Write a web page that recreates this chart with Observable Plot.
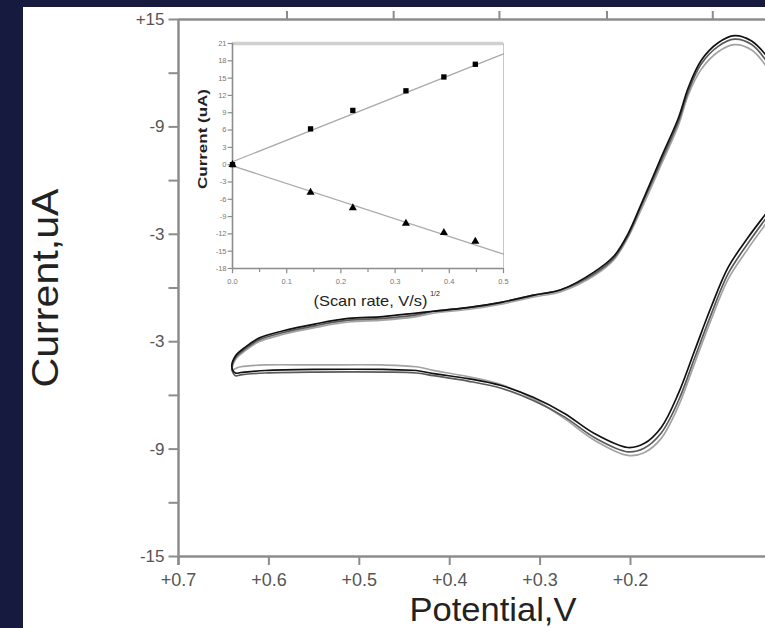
<!DOCTYPE html>
<html><head><meta charset="utf-8">
<script src="https://cdn.jsdelivr.net/npm/d3@7"></script>
<script src="https://cdn.jsdelivr.net/npm/@observablehq/plot@0.6"></script>
<style>
html,body{margin:0;padding:0;background:#151a3e;}
#wrap{position:relative;width:765px;height:628px;overflow:hidden;background:#151a3e;}
#panel{position:absolute;left:23px;top:7px;width:742px;height:621px;background:#fff;}
#main{position:absolute;left:0;top:0;}
#inset{position:absolute;left:185px;top:30px;}
</style></head><body>
<div id="wrap"><div id="panel"></div><div id="main"></div><div id="inset"></div></div>
<script>
// ---- Main cyclic voltammogram (three overlaid scans) ----
const potential = [0.050, 0.066, 0.085, 0.103, 0.122, 0.136, 0.147, 0.166, 0.188, 0.203, 0.218, 0.240, 0.277, 0.307, 0.343, 0.380, 0.418, 0.437, 0.474, 0.512, 0.548, 0.585, 0.611, 0.626, 0.637,
  0.641,
  0.637, 0.631, 0.604, 0.548, 0.474, 0.437, 0.418, 0.380, 0.343, 0.307, 0.273, 0.240, 0.203, 0.185, 0.166, 0.147, 0.129, 0.111, 0.092, 0.070, 0.050];
const scan1 = [13.0, 13.8, 14.1, 13.7, 12.7, 11.2, 9.5, 7.3, 4.7, 3.0, 1.8, 0.9, -0.1, -0.4, -0.8, -1.1, -1.3, -1.4, -1.6, -1.7, -2.0, -2.4, -2.8, -3.3, -3.8,
  -4.4,
  -4.75, -4.72, -4.61, -4.55, -4.55, -4.61, -4.78, -5.06, -5.45, -6.12, -7.01, -8.13, -8.91, -8.69, -7.79, -5.89, -3.49, -1.09, 1.15, 2.82, 4.16];
const scan2 = [12.7, 13.6, 13.9, 13.5, 12.5, 11.0, 9.3, 7.1, 4.6, 2.9, 1.7, 0.8, -0.1, -0.4, -0.8, -1.1, -1.3, -1.5, -1.7, -1.8, -2.1, -2.5, -2.9, -3.4, -3.9,
  -4.5,
  -4.9, -4.85, -4.75, -4.7, -4.7, -4.75, -4.9, -5.2, -5.6, -6.3, -7.2, -8.35, -9.15, -8.95, -8.1, -6.3, -3.9, -1.5, 0.8, 2.5, 3.9];
const scan3 = [12.4, 13.3, 13.6, 13.2, 12.2, 10.8, 9.1, 6.9, 4.4, 2.8, 1.6, 0.7, -0.2, -0.5, -0.9, -1.2, -1.4, -1.6, -1.8, -1.9, -2.2, -2.6, -3.0, -3.5, -4.0,
  -4.6,
  -4.5, -4.4, -4.3, -4.3, -4.3, -4.4, -4.6, -4.95, -5.4, -6.2, -7.3, -8.5, -9.35, -9.2, -8.4, -6.6, -4.2, -1.8, 0.5, 2.2, 3.6];
const scanColors = ["#111111", "#5a5a5a", "#a3a3a3"];

const xTicks = [0.7, 0.6, 0.5, 0.4, 0.3, 0.2];
const xTickLabels = ["+0.7", "+0.6", "+0.5", "+0.4", "+0.3", "+0.2"];
const topTicks = [0.580, 0.462, 0.345, 0.226, 0.109];
const yTicks = [15, 9, 3, -3, -9, -15];
const yTickLabels = ["+15", "-9", "-3", "-3", "-9", "-15"];
const yMinor = [12, 6, 0, -6, -12];

// ---- Inset: peak current vs (scan rate)^1/2 ----
const scanRate = [0, 0.144, 0.222, 0.32, 0.39, 0.448];
const anodic = [0, 6.2, 9.4, 12.8, 15.2, 17.4];
const cathodic = [0, -4.8, -7.5, -10.2, -11.8, -13.3];
const fitX = [0, 0.5];
const anodicFit = [0.5, 19.2];
const cathodicFit = [-0.2, -15.5];
const insetYTicks = [21, 18, 15, 12, 9, 6, 3, 0, -3, -6, -9, -12, -15, -18];
const insetYLabels = ["21", "18", "15", "12", "9", "6", "3", "0", "-3", "-6", "-9", "-12", "-15", "-18"];
const insetXTicks = [0, 0.1, 0.2, 0.3, 0.4, 0.5];
const insetXLabels = ["0.0", "0.1", "0.2", "0.3", "0.4", "0.5"];
const insetXMinor = [0.05, 0.15, 0.25, 0.35, 0.45];

const FONT = "Liberation Sans, Arial, Helvetica, sans-serif";
const axisGrey = "#8c8c8c";
const xRight = 0.7 - 587 / 904;

const scans = [scan3, scan2, scan1];
const scanCols = [scanColors[2], scanColors[1], scanColors[0]];
const cvMarks = scans.map((s, k) => Plot.line(potential.map((v, i) => ({v, c: s[i]})), {
  x: "v", y: "c", stroke: scanCols[k], strokeWidth: 1.7, curve: "catmull-rom", clip: true
}));

const main = Plot.plot({
  width: 765, height: 628,
  marginLeft: 178, marginRight: 0, marginTop: 19, marginBottom: 72,
  style: {background: "transparent", fontFamily: FONT},
  x: {domain: [0.7, xRight], axis: null},
  y: {domain: [-15, 15], axis: null},
  marks: [
    Plot.ruleY([15], {x1: 0.7, x2: xRight, stroke: axisGrey, strokeWidth: 2.5}),
    Plot.ruleY([-15], {x1: 0.7, x2: xRight, stroke: axisGrey, strokeWidth: 2.5}),
    Plot.ruleX([0.7], {y1: -15.5, y2: 15, stroke: axisGrey, strokeWidth: 2.5}),
    Plot.ruleY(yTicks, {y: d => d, x1: 0.7, x2: 0.7105, stroke: axisGrey, strokeWidth: 2}),
    Plot.ruleY(yMinor, {y: d => d, x1: 0.7, x2: 0.7105, stroke: axisGrey, strokeWidth: 2}),
    Plot.text(yTicks, {x: 0.7, y: d => d, text: (d, i) => yTickLabels[i], textAnchor: "end", dx: -14, fontSize: 17, fill: "#555"}),
    Plot.ruleX(xTicks, {x: d => d, y1: -15, y2: -15.5, stroke: axisGrey, strokeWidth: 2}),
    Plot.text(xTicks, {x: d => d, y: -15, text: (d, i) => xTickLabels[i], dy: 24, fontSize: 18, fill: "#555"}),
    Plot.ruleX(topTicks, {x: d => d, y1: 15, y2: 15.45, stroke: axisGrey, strokeWidth: 2}),
    ...cvMarks,
    Plot.text(["Potential,V"], {frameAnchor: "bottom", lineAnchor: "bottom", textAnchor: "middle", dx: 21, dy: 64, fontSize: 34, fill: "#222"}),
    Plot.text(["Current,uA"], {frameAnchor: "left", lineAnchor: "middle", textAnchor: "middle", dx: -132, rotate: -90, fontSize: 37, fill: "#222"})
  ]
});
document.getElementById("main").appendChild(main);

const inset = Plot.plot({
  width: 330, height: 285,
  marginLeft: 47, marginRight: 12, marginTop: 13, marginBottom: 47,
  style: {background: "transparent", fontFamily: FONT},
  x: {domain: [0, 0.5], axis: null},
  y: {domain: [-18, 21], axis: null},
  marks: [
    Plot.ruleY([21], {x1: 0, x2: 0.5, stroke: "#d0d0d0", strokeWidth: 3.5}),
    Plot.ruleX([0.5], {y1: -18, y2: 21, stroke: "#c8c8c8", strokeWidth: 1}),
    Plot.ruleX([0], {y1: -18, y2: 21, stroke: axisGrey, strokeWidth: 1.6}),
    Plot.ruleY([-18], {x1: 0, x2: 0.5, stroke: axisGrey, strokeWidth: 1.6}),
    Plot.ruleY(insetYTicks, {y: d => d, x1: 0, x2: -0.008, stroke: axisGrey, strokeWidth: 1.2}),
    Plot.text(insetYTicks, {x: 0, y: d => d, text: (d, i) => insetYLabels[i], textAnchor: "end", dx: -6, fontSize: 7.5, fill: "#777"}),
    Plot.ruleX(insetXTicks, {x: d => d, y1: -18, y2: -18.9, stroke: axisGrey, strokeWidth: 1.2}),
    Plot.ruleX(insetXMinor, {x: d => d, y1: -18, y2: -18.7, stroke: axisGrey, strokeWidth: 1.2}),
    Plot.text(insetXTicks, {x: d => d, y: -18, text: (d, i) => insetXLabels[i], dy: 13, fontSize: 7.5, fill: "#777"}),
    Plot.line(fitX.map((x, i) => ({x, y: anodicFit[i]})), {x: "x", y: "y", stroke: "#aaa", strokeWidth: 1.3}),
    Plot.line(fitX.map((x, i) => ({x, y: cathodicFit[i]})), {x: "x", y: "y", stroke: "#aaa", strokeWidth: 1.3}),
    Plot.dot(scanRate.map((x, i) => ({x, y: anodic[i]})), {x: "x", y: "y", symbol: "square", r: 3, fill: "#000"}),
    Plot.dot(scanRate.map((x, i) => ({x, y: cathodic[i]})), {x: "x", y: "y", symbol: "triangle", r: 3, fill: "#000"}),
    Plot.text(["Current (uA)"], {frameAnchor: "left", lineAnchor: "middle", textAnchor: "middle", dx: -30, dy: -17, rotate: -90, fontSize: 13, fontWeight: "bold", fill: "#222"}),
    Plot.text(["(Scan rate, V/s)"], {frameAnchor: "bottom", lineAnchor: "bottom", textAnchor: "middle", dx: 2.5, dy: 37, fontSize: 15, fill: "#222"}),
    Plot.text(["1/2"], {frameAnchor: "bottom", lineAnchor: "bottom", textAnchor: "middle", dx: 67, dy: 27, fontSize: 7, fill: "#222"})
  ]
});
document.getElementById("inset").appendChild(inset);

// stretch a few titles to the widths seen in the reference
const fit = (svg, txt, len) => {
  svg.querySelectorAll("text").forEach(t => {
    if (t.textContent === txt) { t.setAttribute("textLength", len); t.setAttribute("lengthAdjust", "spacingAndGlyphs"); }
  });
};
fit(main, "Current,uA", 199);
fit(main, "Potential,V", 167);
fit(inset, "Current (uA)", 100);
fit(inset, "(Scan rate, V/s)", 114);
</script>
</body></html>
